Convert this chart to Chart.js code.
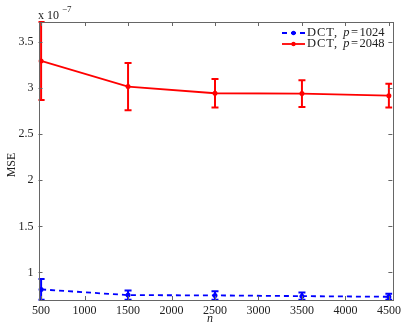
<!DOCTYPE html>
<html>
<head>
<meta charset="utf-8">
<script src="https://cdn.jsdelivr.net/npm/chart.js"></script>
<style>
  html, body { margin: 0; padding: 0; background: #fff; }
  #wrap { width: 405px; height: 326px; }
</style>
</head>
<body>
<div id="wrap"><canvas id="chart"></canvas></div>
<script>
// data (MSE in units of 1e-7)
const nValues = [500, 1500, 2500, 3500, 4500];
const mse1024 = [0.815, 0.753, 0.750, 0.742, 0.735];
const err1024 = [0.112, 0.050, 0.046, 0.040, 0.033];
const mse2048 = [3.297, 3.018, 2.946, 2.942, 2.920];
const err2048 = [0.424, 0.257, 0.155, 0.145, 0.130];
const xTicks = [500, 1000, 1500, 2000, 2500, 3000, 3500, 4000, 4500];
const yTicks = [1, 1.5, 2, 2.5, 3, 3.5];
const seriesNames = ['1024', '2048'];

const FONT = '"Liberation Serif", "DejaVu Serif", serif';
const AXIS = '#666';

function pts(ys) { return nValues.map((x, i) => ({ x: x, y: ys[i] })); }

// error bars, drawn through the scales
const errorBars = {
  id: 'errorBars',
  afterDatasetsDraw(chart) {
    const ctx = chart.ctx, y = chart.scales.y, a = chart.chartArea;
    ctx.save();
    ctx.beginPath();
    ctx.rect(a.left, a.top - 1, a.right - a.left, a.bottom - a.top + 2);
    ctx.clip();
    chart.data.datasets.forEach((ds, di) => {
      const meta = chart.getDatasetMeta(di);
      ctx.strokeStyle = ds.borderColor;
      ctx.lineWidth = 2;
      ctx.setLineDash([]);
      meta.data.forEach((p, i) => {
        const v = ds.data[i].y, e = ds.errors[i];
        const yt = y.getPixelForValue(v + e), yb = y.getPixelForValue(v - e);
        ctx.beginPath();
        ctx.moveTo(p.x, yt); ctx.lineTo(p.x, yb);
        ctx.moveTo(p.x - 3.5, yt); ctx.lineTo(p.x + 3.5, yt);
        ctx.moveTo(p.x - 3.5, yb); ctx.lineTo(p.x + 3.5, yb);
        ctx.stroke();
      });
    });
    ctx.restore();
  }
};

// matlab style box, inward ticks, labels and legend
const frame = {
  id: 'frame',
  afterDraw(chart) {
    const ctx = chart.ctx, a = chart.chartArea;
    const xs = chart.scales.x, ys = chart.scales.y;
    ctx.save();
    ctx.strokeStyle = AXIS;
    ctx.lineWidth = 1;
    ctx.strokeRect(Math.round(a.left) + 0.5, Math.round(a.top) + 0.5,
      Math.round(a.right - a.left), Math.round(a.bottom - a.top));
    ctx.beginPath();
    xTicks.forEach(t => {
      const px = Math.round(xs.getPixelForValue(t)) + 0.5;
      ctx.moveTo(px, a.bottom); ctx.lineTo(px, a.bottom - 4);
      ctx.moveTo(px, a.top); ctx.lineTo(px, a.top + 4);
    });
    yTicks.forEach(t => {
      const py = Math.round(ys.getPixelForValue(t)) + 0.5;
      ctx.moveTo(a.left, py); ctx.lineTo(a.left + 4, py);
      ctx.moveTo(a.right, py); ctx.lineTo(a.right - 4, py);
    });
    ctx.stroke();

    ctx.fillStyle = '#222';
    // x 10^-7
    ctx.font = '12px ' + FONT;
    ctx.textAlign = 'left';
    ctx.textBaseline = 'alphabetic';
    ctx.fillText('x 10', 38, 19);
    ctx.font = '9px ' + FONT;
    ctx.fillText('\u22127', 62, 12);

    // axis titles
    ctx.font = 'italic 12px ' + FONT;
    ctx.textAlign = 'center';
    ctx.textBaseline = 'middle';
    ctx.fillText('n', 210, 319);
    ctx.save();
    ctx.translate(12, 165);
    ctx.rotate(-Math.PI / 2);
    ctx.font = '12px ' + FONT;
    ctx.fillText('MSE', 0, 0);
    ctx.restore();

    // legend
    const rows = [33, 44];
    chart.data.datasets.forEach((ds, i) => {
      const yy = rows[i];
      ctx.strokeStyle = ds.borderColor;
      ctx.lineWidth = ds.borderWidth;
      ctx.setLineDash(ds.borderDash || []);
      ctx.beginPath();
      ctx.moveTo(282, yy); ctx.lineTo(305, yy);
      ctx.stroke();
      ctx.setLineDash([]);
      ctx.fillStyle = ds.borderColor;
      ctx.beginPath();
      ctx.arc(293.5, yy, 2.2, 0, Math.PI * 2);
      ctx.fill();
      ctx.fillStyle = '#222';
      ctx.textAlign = 'left';
      ctx.textBaseline = 'middle';
      let x = 307;
      ctx.font = '12.5px ' + FONT;
      ctx.letterSpacing = '1px';
      const t1 = 'DCT, ';
      ctx.fillText(t1, x, yy); x += ctx.measureText(t1).width + 1;
      ctx.letterSpacing = '0px';
      ctx.font = 'italic 12.5px ' + FONT;
      ctx.fillText('p', x, yy); x += ctx.measureText('p').width + 1.5;
      ctx.font = '12.5px ' + FONT;
      ctx.fillText('=', x, yy); x += ctx.measureText('=').width + 1.5;
      ctx.fillText(seriesNames[i], x, yy);
    });
    ctx.restore();
  }
};

new Chart(document.getElementById('chart'), {
  type: 'line',
  data: {
    datasets: [
      {
        label: 'DCT, p=1024', data: pts(mse1024), errors: err1024,
        borderColor: '#0000ff', backgroundColor: '#0000ff',
        borderWidth: 1.8, borderDash: [5, 4],
        pointRadius: 2.5, pointBorderWidth: 0, tension: 0
      },
      {
        label: 'DCT, p=2048', data: pts(mse2048), errors: err2048,
        borderColor: '#ff0000', backgroundColor: '#ff0000',
        borderWidth: 1.8,
        pointRadius: 2.5, pointBorderWidth: 0, tension: 0
      }
    ]
  },
  options: {
    responsive: true,
    maintainAspectRatio: false,
    animation: false,
    clip: false,
    layout: { padding: { top: 22, right: 12, left: 0, bottom: 0 } },
    plugins: { legend: { display: false }, tooltip: { enabled: false } },
    scales: {
      x: {
        type: 'linear', min: 470, max: 4540,
        afterBuildTicks: s => { s.ticks = xTicks.map(v => ({ value: v })); },
        afterFit: s => { s.height = 26; },
        grid: { display: false, drawTicks: false },
        border: { display: false },
        ticks: { padding: 4, color: '#222', font: { family: FONT, size: 12 }, maxRotation: 0, autoSkip: false,
                 callback: v => String(v) }
      },
      y: {
        type: 'linear', min: 0.70, max: 3.72,
        afterBuildTicks: s => { s.ticks = yTicks.map(v => ({ value: v })); },
        afterFit: s => { s.width = 38.5; },
        grid: { display: false, drawTicks: false },
        border: { display: false },
        ticks: { padding: 5, color: '#222', font: { family: FONT, size: 12 }, callback: v => String(v) }
      }
    }
  },
  plugins: [errorBars, frame]
});
</script>
</body>
</html>
